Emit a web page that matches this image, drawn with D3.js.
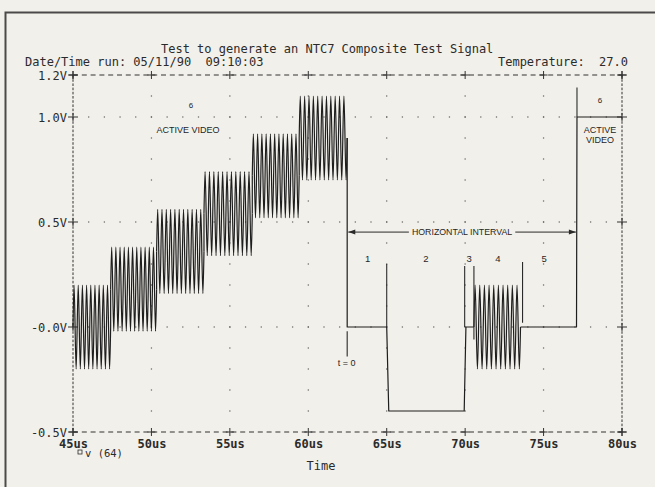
<!DOCTYPE html>
<html>
<head>
<meta charset="utf-8">
<script src="https://cdn.jsdelivr.net/npm/d3@7"></script>
<style>
  body { margin: 0; background: #f2f0ea; }
  svg { display: block; }
  .mono { font-family: "DejaVu Sans Mono", monospace; font-size: 12px; fill: #2b2b2b; }
  .sans { font-family: "Liberation Sans", Arial, sans-serif; fill: #262626; }
</style>
</head>
<body>
<svg id="chart" width="655" height="487"></svg>
<script>
// axis ticks
const timeTicks = [45, 50, 55, 60, 65, 70, 75, 80];          // us
const voltTicks = [1.2, 1.0, 0.5, 0.0, -0.5];                // V
const voltLabels = ["1.2V", "1.0V", "0.5V", "-0.0V", "-0.5V"];

// active video staircase: step start (us), luminance (V), counted chroma cycles
const stepStart = [45.0, 47.40, 50.33, 53.35, 56.43, 59.42];
const stepEnd = 62.48;
const stepLevel = [0.00, 0.18, 0.36, 0.54, 0.72, 0.90];
const stepCycles = [9, 11, 11, 11, 11, 11];
const chromaAmp = 0.2;

// horizontal interval: front porch, sync, breezeway
const blankTime = [62.48, 65.00, 65.13, 69.94, 70.05, 70.56];
const blankVolt = [0.00, 0.00, -0.40, -0.40, 0.00, 0.00];

// colour burst
const burstStart = 70.56, burstEnd = 73.53, burstCycles = 10;

// back porch then next line's active video
const tailTime = [73.53, 77.10, 77.13, 80.0];
const tailVolt = [0.00, 0.00, 1.00, 1.00];

// section marker lines: time, top volt, bottom volt
const markerTime = [62.48, 65.00, 69.97, 70.56, 73.66, 77.13];
const markerTop = [-0.02, 0.30, 0.29, 0.29, 0.31, 1.14];
const markerBottom = [-0.14, 0.00, 0.00, -0.06, 0.02, 1.00];

// annotation text in data coordinates
const notes = [
  { text: "6", t: 52.52, v: 1.057, small: true },
  { text: "ACTIVE VIDEO", t: 52.33, v: 0.941 },
  { text: "6", t: 78.59, v: 1.081, small: true },
  { text: "ACTIVE", t: 78.59, v: 0.938 },
  { text: "VIDEO", t: 78.59, v: 0.890 },
  { text: "1", t: 63.78, v: 0.324 },
  { text: "2", t: 67.50, v: 0.324 },
  { text: "3", t: 70.26, v: 0.324 },
  { text: "4", t: 72.09, v: 0.324 },
  { text: "5", t: 75.04, v: 0.324 },
  { text: "t = 0", t: 62.44, v: -0.173 }
];
const intervalFrom = 62.55, intervalTo = 77.06, intervalVolt = 0.452;

const svg = d3.select("#chart");
const x = d3.scaleLinear().domain([45, 80]).range([73, 622]);
const y = d3.scaleLinear().domain([-0.5, 1.2]).range([432, 75]);

// page border
svg.append("path").attr("d", "M5.5,487 V12.5 H655")
  .attr("fill", "none").attr("stroke", "#4a4a4a").attr("stroke-width", 2);

// grid dots
const dots = svg.append("g").attr("fill", "#6a6a6a");
[1.0, 0.5, 0.0].forEach(v => {
  d3.range(46, 80, 1).forEach(t => {
    dots.append("circle").attr("cx", x(t)).attr("cy", y(v)).attr("r", 0.75);
  });
});
[50, 55, 60, 65, 70, 75].forEach(t => {
  d3.range(-4, 12, 1).forEach(k => {
    dots.append("circle").attr("cx", x(t)).attr("cy", y(k / 10)).attr("r", 0.75);
  });
});

// dashed frame
const frame = svg.append("g").attr("stroke", "#333").attr("stroke-width", 1).attr("fill", "none");
[1.2, -0.5].forEach(v => {
  frame.append("line").attr("x1", x(45)).attr("x2", x(80)).attr("y1", y(v)).attr("y2", y(v))
    .attr("stroke-dasharray", "5,3.8");
});
[45, 80].forEach(t => {
  frame.append("line").attr("x1", x(t)).attr("x2", x(t)).attr("y1", y(1.2)).attr("y2", y(-0.5))
    .attr("stroke-dasharray", "2.6,1.6");
});

// "+" tick marks
const plus = (cx, cy, w, h) => {
  frame.append("line").attr("x1", cx - w).attr("x2", cx + w).attr("y1", cy).attr("y2", cy);
  frame.append("line").attr("x1", cx).attr("x2", cx).attr("y1", cy - h).attr("y2", cy + h);
};
timeTicks.forEach(t => { plus(x(t), y(1.2), 4, 4); plus(x(t), y(-0.5), 4, 4); });
voltTicks.forEach(v => { plus(x(45), y(v), 5, 4); plus(x(80), y(v), 5, 4); });

// axis labels
const xAxis = svg.append("g").attr("transform", `translate(0,${y(-0.5)})`)
  .call(d3.axisBottom(x).tickValues(timeTicks).tickFormat(d => d + "us").tickSize(0).tickPadding(7));
xAxis.select(".domain").remove();
xAxis.selectAll("text").attr("class", "mono").style("font-weight", "bold").style("font-size", "12px");

const yAxis = svg.append("g").attr("transform", `translate(${x(45)},0)`)
  .call(d3.axisLeft(y).tickValues(voltTicks).tickFormat((d, i) => voltLabels[i]).tickSize(0).tickPadding(6));
yAxis.select(".domain").remove();
yAxis.selectAll("text").attr("class", "mono").attr("dy", "0.34em");

// waveform: oscillating parts go in "smooth", edges and flat parts in "straight"
const smooth = [], straight = [];
const chroma = (t0, t1, level, n) => {
  smooth.push([t0, level]);
  const half = (t1 - t0) / (2 * n);
  for (let k = 0; k < 2 * n; k++) {
    smooth.push([t0 + (k + 0.5) * half, level + (k % 2 === 0 ? chromaAmp : -chromaAmp)]);
  }
  smooth.push([t1, level], null);
};
stepStart.forEach((s, i) => {
  const e = i < stepStart.length - 1 ? stepStart[i + 1] : stepEnd;
  chroma(s, e, stepLevel[i], stepCycles[i]);
  if (i > 0) straight.push([s, stepLevel[i - 1]], [s, stepLevel[i]], null);
});
straight.push([stepEnd, stepLevel[stepLevel.length - 1]]);
blankTime.forEach((t, i) => straight.push([t, blankVolt[i]]));
straight.push(null);
chroma(burstStart, burstEnd, 0, burstCycles);
tailTime.forEach((t, i) => straight.push([t, tailVolt[i]]));

const wave = svg.append("g").attr("fill", "none").attr("stroke", "#1e1e1e")
  .attr("stroke-width", 1.2).attr("stroke-linejoin", "round");
wave.append("path").datum(smooth)
  .attr("d", d3.line().defined(d => d).curve(d3.curveMonotoneX).x(d => x(d[0])).y(d => y(d[1])));
wave.append("path").datum(straight)
  .attr("d", d3.line().defined(d => d).x(d => x(d[0])).y(d => y(d[1])));

// section markers
svg.append("g").attr("stroke", "#2a2a2a").attr("stroke-width", 1.1)
  .selectAll("line").data(markerTime).join("line")
  .attr("x1", d => x(d)).attr("x2", d => x(d))
  .attr("y1", (d, i) => y(markerTop[i])).attr("y2", (d, i) => y(markerBottom[i]));

// annotations
svg.append("g").selectAll("text").data(notes).join("text")
  .attr("class", "sans")
  .attr("x", d => x(d.t)).attr("y", d => y(d.v))
  .attr("text-anchor", "middle").attr("dy", "0.35em")
  .style("font-size", d => (d.small ? "8px" : d.text.length === 1 ? "9.5px" : "9px"))
  .text(d => d.text);

// horizontal interval arrow
const ix = x((intervalFrom + intervalTo) / 2), iy = y(intervalVolt);
const itext = svg.append("text").attr("class", "sans")
  .attr("x", ix).attr("y", iy).attr("dy", "0.35em").attr("text-anchor", "middle")
  .style("font-size", "8.8px").text("HORIZONTAL INTERVAL");
const tw = itext.node().getComputedTextLength();
const arrow = svg.append("g").attr("stroke", "#2a2a2a").attr("stroke-width", 1);
arrow.append("line").attr("x1", x(intervalFrom)).attr("x2", ix - tw / 2 - 3).attr("y1", iy).attr("y2", iy);
arrow.append("line").attr("x1", ix + tw / 2 + 3).attr("x2", x(intervalTo)).attr("y1", iy).attr("y2", iy);
const x0 = x(intervalFrom), x1 = x(intervalTo);
svg.append("path").attr("fill", "#2a2a2a")
  .attr("d", `M${x0},${iy} l7,-2.5 v5 Z M${x1},${iy} l-7,-2.5 v5 Z`);

// header text
svg.append("text").attr("class", "mono").attr("x", 161).attr("y", 52.5)
  .text("Test to generate an NTC7 Composite Test Signal");
svg.append("text").attr("class", "mono").attr("x", 25).attr("y", 66)
  .style("white-space", "pre")
  .text("Date/Time run: 05/11/90  09:10:03");
svg.append("text").attr("class", "mono").attr("x", 628).attr("y", 66)
  .attr("text-anchor", "end").style("white-space", "pre")
  .text("Temperature:  27.0");

// legend and axis title
svg.append("rect").attr("x", 78).attr("y", 450).attr("width", 4).attr("height", 4)
  .attr("fill", "none").attr("stroke", "#2b2b2b").attr("stroke-width", 0.8);
svg.append("text").attr("class", "mono").attr("x", 85).attr("y", 457)
  .style("font-size", "10.5px").style("white-space", "pre").text("v (64)");
svg.append("text").attr("class", "mono").attr("x", 321).attr("y", 470)
  .attr("text-anchor", "middle").text("Time");
</script>
</body>
</html>
